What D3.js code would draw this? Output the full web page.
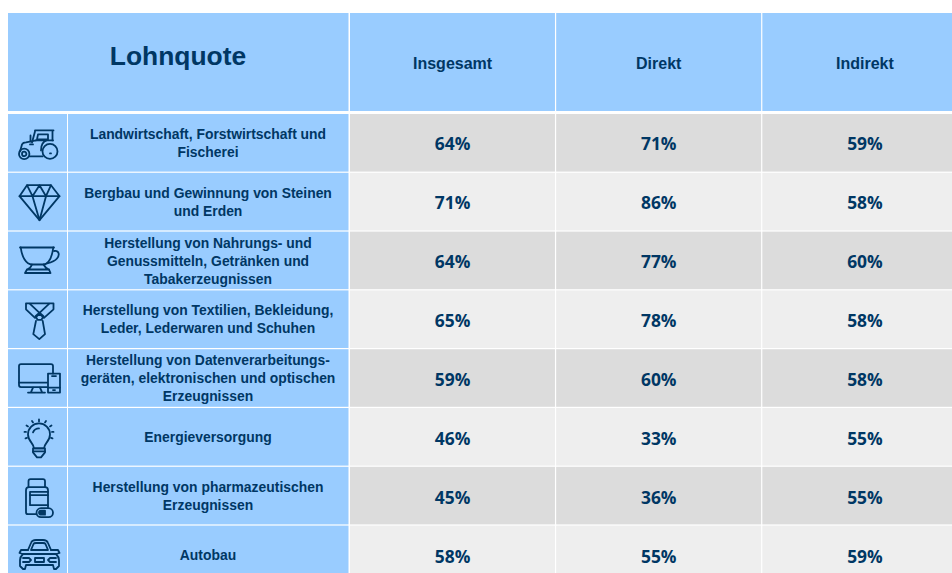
<!DOCTYPE html>
<html>
<head>
<meta charset="utf-8">
<title>Lohnquote</title>
<script src="https://cdnjs.cloudflare.com/ajax/libs/d3/7.8.5/d3.min.js"></script>
<style>
	html, body {margin: 0; padding: 0; background: #fff; overflow: hidden;}
	svg {display: block;}
	text {font-family: "Liberation Sans", Arial, sans-serif; font-weight: bold; fill: #003764; text-anchor: middle;}
	.value {font-family: "Open Sans", sans-serif; font-size: 17.4px;}
	.label {font-size: 13.9px;}
	.colhead {font-size: 16px;}
	.title {font-size: 26.4px;}
	.icon path {fill: none; stroke: #003764; stroke-width: 1.8; stroke-linejoin: round; stroke-linecap: round;}
	.icon path.solid {fill: #003764;}
	.icon path.cover {fill: #99ccff;}
</style>
</head>
<body>
<div class="wrapper"></div>
<script>

var title = "Lohnquote";
var columns = ["Insgesamt", "Direkt", "Indirekt"];

var categories = [
	["Landwirtschaft, Forstwirtschaft und", "Fischerei"],
	["Bergbau und Gewinnung von Steinen", "und Erden"],
	["Herstellung von Nahrungs- und", "Genussmitteln, Getränken und", "Tabakerzeugnissen"],
	["Herstellung von Textilien, Bekleidung,", "Leder, Lederwaren und Schuhen"],
	["Herstellung von Datenverarbeitungs-", "geräten, elektronischen und optischen", "Erzeugnissen"],
	["Energieversorgung"],
	["Herstellung von pharmazeutischen", "Erzeugnissen"],
	["Autobau"]
];

var insgesamt = [64, 71, 64, 65, 59, 46, 45, 58];
var direkt = [71, 86, 77, 78, 60, 33, 36, 55];
var indirekt = [59, 58, 60, 58, 58, 55, 55, 59];

// line icons, drawn around the centre of the icon cell
var icons = [
	[
		"M-9.5,13 L3.5,13",
		"M-19,8 L-17,1 Q-16,-1 -13,-1 L-3,-3",
		"M-4,-13 L14.5,-13",
		"M-4,-12 L-7,-1 M13.5,-12 L13.5,-3",
		"M-1,-9 L9,-9 L9,-4 L-2,-4 L-1,-9",
		"M-8.5,-8 L-8.5,-2 M-9,1 L-6,1",
		"M-3,-3 L14,-3 M2,7 C2,2 4,-2 8,-3",
		"M3.5,8 A7.5,7.5 0 1 1 18.5,8 A7.5,7.5 0 1 1 3.5,8 Z",
		"M11,10 L12,10",
		"M-20,10.5 A5.2,5.2 0 1 1 -9.6,10.5 A5.2,5.2 0 1 1 -20,10.5 Z",
		"M-17,10.5 A2.2,2.2 0 1 1 -12.6,10.5 A2.2,2.2 0 1 1 -17,10.5 Z"
	],
	[
		"M-12,-17 L12,-17 L20.5,-6 L0.5,18 L-19.5,-6 Z",
		"M-19.5,-6 L20.5,-6",
		"M-12,-17 L-6.5,-6 L0.5,-17 L7,-6 L12,-17",
		"M-6.5,-6 L0.5,18 L7,-6"
	],
	[
		"M-19,-13.5 L15,-13.5",
		"M-18.3,-13.5 C-17,-4 -13,3.5 -7,3.5 L4,3.5 C10,3.5 13,-4 14.3,-13.5",
		"M15,-10 C20,-11 21,-6 18,-2.5 C16,0 12,1.5 8,2.5",
		"M-7,3.5 C-8,6 -10,8 -12,8.5 L10,8.5 C8,8 6,6 4.5,3.5",
		"M-14,12 L11.5,12 M-12,8.5 L-14,12 M10,8.5 L11.5,12"
	],
	[
		"M-13,-16.5 L14.5,-16.5 L14.5,-10.5 L5,-2 L0.5,-6 L-4,-2 L-13,-10.5 Z",
		"M-9,-16 L0.5,-7 L10,-16",
		"M-3.5,-3.5 L0.5,-7 L4.5,-3.5 L2.5,0 L-1.5,0 Z",
		"M-3,1 L-5.7,14.3 L0.3,19.3 L6,14.3 L3.7,1"
	],
	[
		"M8,8.5 L-18,8.5 Q-20,8.5 -20,6.5 L-20,-12.5 Q-20,-14.5 -18,-14.5 L12,-14.5 Q14,-14.5 14,-12.5 L14,-5",
		"M-20,4 L8,4",
		"M-6,9 L-8,13.5 M1,9 L3,13.5 M-11,14 L6,14",
		"M9,-5 L21,-5 L21,14 L9,14 Z",
		"M9,9 L21,9 M13,-2.5 L17,-2.5 M14,11.5 L16,11.5"
	],
	[
		"M-5,11 C-5,6 -11,4 -11,-3 A11,11 0 1 1 11,-3 C11,4 5,6 5,11 Z",
		"M-6,-5 A6.5,6.5 0 0 1 0,-9",
		"M-6,11 L6,11 L6,15 L2,20 L-2,20 L-6,15 Z",
		"M-6,14 L6,14",
		"M0,-18 L0,-16 M-7,-16.5 L-6,-15 M7,-16.5 L6,-15 M-12.5,-12 L-11,-11 M12.5,-12 L11,-11 M-14.5,-5.5 L-13,-5.5 M14.5,-5.5 L13,-5.5 M-13.5,1 L-12,0.5 M13.5,1 L12,0.5"
	],
	[
		"M-10.5,-9 L-10.5,-15 Q-10.5,-17 -8.5,-17 L4,-17 Q6,-17 6,-15 L6,-9",
		"M-13,16 L-13,-6 Q-13,-9 -10,-9 L6,-9 Q9,-9 9,-6 L9,11 M-13,16 Q-13,18 -11,18 L-3,18",
		"M9,-4.3 L-9,-4.3 L-9,9 L9,9",
		"M-9,-1 L9,-1",
		"cover M2,12 L9.5,12 A4.5,4.5 0 0 1 9.5,21 L2,21 A4.5,4.5 0 0 1 2,12 Z",
		"solid M2,14.5 L6,14.5 L6,18.5 L2,18.5 A2,2 0 0 1 2,14.5 Z"
	],
	[
		"M-11,-5 L-8,-12 Q-7,-15 -3,-15 L4,-15 Q8,-15 9,-12 L12,-5",
		"M-8,-5 L-5.5,-11 Q-5,-12 -3,-12 L4,-12 Q6,-12 6.5,-11 L9,-5 Z",
		"M-11,-5 L-18,-5 L-19.5,-2 L-16,-1 Q-19,2 -19,5 L-19,11 L-16,14 L-14,14 L-13,10 L14,10 L15,14 L17,14 L20,11 L20,5 Q20,2 17,-1 L20.5,-2 L19,-5 L12,-5",
		"M-16,-1 L17,-1",
		"M-16,3 L-10,3 L-8,5 L-10,7 L-16,7 M17,3 L11,3 L9,5 L11,7 L17,7",
		"M-4,3 L5,3 L5,7 L-4,7 Z"
	]
];

var WIDTH = 952,
	HEIGHT = 573,
	GRID_LEFT = 8,
	HEAD_TOP = 13,
	HEAD_BOTTOM = 111,
	ROW_TOP = 114,
	ROW_HEIGHT = 58.8,
	VALUE_STEP = 59,
	ICON_RIGHT = 67,
	LABEL_LEFT = 68,
	LABEL_RIGHT = 348.5,
	COL_LEFT = 350,
	LINE_HEIGHT = 18,
	CELL_GAP = 1.2;

var x = d3.scaleBand()
	.domain(columns)
	.range([COL_LEFT, 968.5]);

var y = d3.scaleBand()
	.domain(d3.range(categories.length))
	.range([ROW_TOP, ROW_TOP + ROW_HEIGHT * categories.length]);

// the percent labels sit on a slightly wider step than the cells
var yValue = d3.scaleBand()
	.domain(d3.range(categories.length))
	.range([ROW_TOP, ROW_TOP + VALUE_STEP * categories.length]);

var svg = d3.select(".wrapper")
	.append("svg")
		.attr("width", WIDTH)
		.attr("height", HEIGHT);

//------------- header ---------------- //

svg.append("rect")
	.attr("x", GRID_LEFT)
	.attr("y", HEAD_TOP)
	.attr("width", LABEL_RIGHT - GRID_LEFT)
	.attr("height", HEAD_BOTTOM - HEAD_TOP)
	.attr("fill", "#99ccff");

svg.append("text")
	.attr("class", "title")
	.attr("x", 178)
	.attr("y", 65)
	.text(title);

var heads = svg.selectAll(".head")
	.data(columns)
	.enter()
	.append("g")
		.attr("class", "head");

heads.append("rect")
	.attr("x", function(d) {return x(d);})
	.attr("y", HEAD_TOP)
	.attr("width", x.bandwidth() - CELL_GAP)
	.attr("height", HEAD_BOTTOM - HEAD_TOP)
	.attr("fill", "#99ccff");

heads.append("text")
	.attr("class", "colhead")
	.attr("x", function(d) {return x(d) + x.bandwidth() / 2 - 0.5;})
	.attr("y", 68.5)
	.text(function(d) {return d;});

//------------- rows ---------------- //

var rows = svg.selectAll(".row")
	.data(categories)
	.enter()
	.append("g")
		.attr("class", "row");

rows.append("rect")
	.attr("x", GRID_LEFT)
	.attr("y", function(d, i) {return y(i);})
	.attr("width", ICON_RIGHT - GRID_LEFT)
	.attr("height", y.bandwidth() - CELL_GAP)
	.attr("fill", "#99ccff");

rows.append("rect")
	.attr("x", LABEL_LEFT)
	.attr("y", function(d, i) {return y(i);})
	.attr("width", LABEL_RIGHT - LABEL_LEFT)
	.attr("height", y.bandwidth() - CELL_GAP)
	.attr("fill", "#99ccff");

rows.append("text")
	.attr("class", "label")
	.attr("x", 208)
	.attr("y", function(d, i) {
		return y(i) + y.bandwidth() / 2 + 4.5 - (d.length - 1) * LINE_HEIGHT / 2;
	})
	.selectAll("tspan")
	.data(function(d) {return d;})
	.enter()
	.append("tspan")
		.attr("x", 208)
		.attr("dy", function(d, i) {return i ? LINE_HEIGHT : 0;})
		.text(function(d) {return d;});

rows.append("g")
	.attr("class", "icon")
	.attr("transform", function(d, i) {
		return "translate(39," + (y(i) + y.bandwidth() / 2) + ")";
	})
	.selectAll("path")
	.data(function(d, i) {return icons[i];})
	.enter()
	.append("path")
		.attr("class", function(d) {
			var m = d.match(/^[a-z]+/);
			return m ? m[0] : null;
		})
		.attr("d", function(d) {return d.replace(/^[a-z]+ /, "");});

var series = [insgesamt, direkt, indirekt];

columns.forEach(function(col, c) {
	var cells = svg.selectAll(".cell-" + c)
		.data(series[c])
		.enter()
		.append("g")
			.attr("class", "cell-" + c);

	cells.append("rect")
		.attr("x", x(col))
		.attr("y", function(d, i) {return y(i);})
		.attr("width", x.bandwidth() - CELL_GAP)
		.attr("height", y.bandwidth() - CELL_GAP)
		.attr("fill", function(d, i) {return i % 2 ? "#eeeeee" : "#dcdcdc";});

	cells.append("text")
		.attr("class", "value")
		.attr("x", x(col) + x.bandwidth() / 2 - 0.5)
		.attr("y", function(d, i) {return yValue(i) + yValue.bandwidth() / 2 + 6;})
		.text(function(d) {return d + "%";});
});

</script>
</body>
</html>
